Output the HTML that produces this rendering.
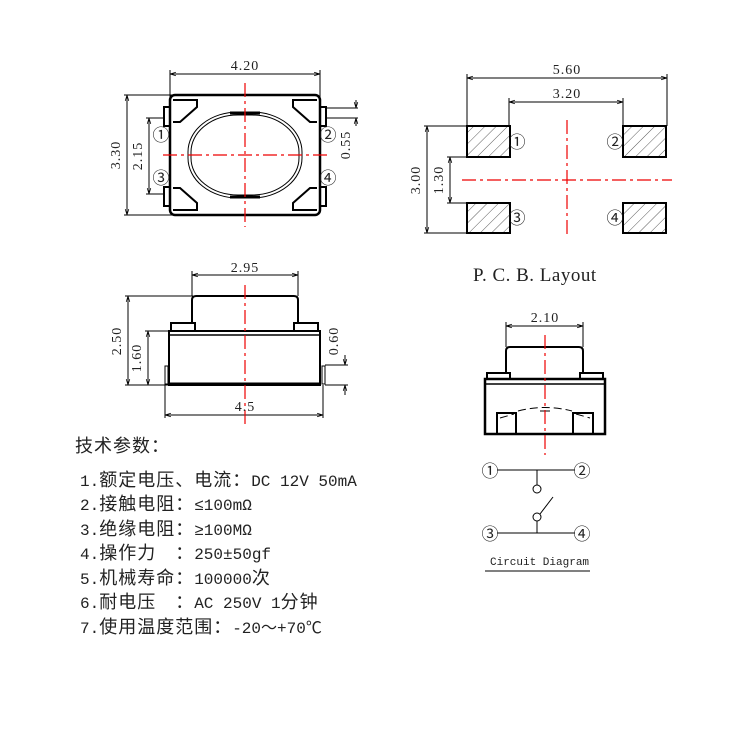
<!DOCTYPE html>
<html><head><meta charset="utf-8"><style>
html,body{margin:0;padding:0;background:#fff;width:750px;height:750px;overflow:hidden}
svg text{fill:#222}
.s{font-family:"Liberation Serif","Noto Sans CJK SC",serif}
.n{font-family:"Liberation Sans","Noto Sans CJK SC",sans-serif}
.m{font-family:"Liberation Mono","Noto Sans CJK SC",monospace}
.c{font-family:"Noto Sans CJK SC",sans-serif;font-size:18px;letter-spacing:1px}
</style></head><body>
<svg width="750" height="750" viewBox="0 0 750 750" xmlns="http://www.w3.org/2000/svg">
<defs>
<marker id="a" viewBox="0 0 10 10" refX="10" refY="5" markerWidth="6" markerHeight="6" orient="auto-start-reverse"><path d="M0,2 L10,5 L0,8" fill="none" stroke="#000" stroke-width="1.2"/></marker>
<pattern id="h" width="8" height="8" patternUnits="userSpaceOnUse" patternTransform="rotate(45)"><line x1="0" y1="0" x2="0" y2="8" stroke="#333" stroke-width="0.8"/></pattern>
</defs>
<g stroke="#000" fill="none" stroke-width="1">
<line x1="170" y1="74" x2="320" y2="74" marker-start="url(#a)" marker-end="url(#a)"/>
<line x1="170" y1="70" x2="170" y2="97"/><line x1="320" y1="70" x2="320" y2="97"/>
<line x1="127" y1="95" x2="127" y2="215" marker-start="url(#a)" marker-end="url(#a)"/>
<line x1="124" y1="95" x2="172" y2="95"/><line x1="124" y1="215" x2="172" y2="215"/>
<line x1="149" y1="118" x2="149" y2="194" marker-start="url(#a)" marker-end="url(#a)"/>
<line x1="146" y1="118" x2="165" y2="118"/><line x1="146" y1="194" x2="165" y2="194"/>
<line x1="325" y1="108" x2="358" y2="108"/><line x1="325" y1="118" x2="358" y2="118"/>
<line x1="356" y1="100" x2="356" y2="108" marker-end="url(#a)"/><line x1="356" y1="126" x2="356" y2="118" marker-end="url(#a)"/>
<rect x="170" y="95" width="150" height="120" rx="5" stroke-width="2.5"/>
<rect x="164" y="107" width="6" height="19" stroke-width="2"/><rect x="164" y="187" width="6" height="19" stroke-width="2"/>
<rect x="320" y="107" width="6" height="19" stroke-width="2"/><rect x="320" y="187" width="6" height="19" stroke-width="2"/>
<path d="M173,100 L197,100 L197,107 L180,122 L173,122" stroke-width="2"/>
<path d="M317,100 L293,100 L293,107 L310,122 L317,122" stroke-width="2"/>
<path d="M173,210 L197,210 L197,203 L180,188 L173,188" stroke-width="2"/>
<path d="M317,210 L293,210 L293,203 L310,188 L317,188" stroke-width="2"/>
<rect x="188" y="112" width="114" height="86" rx="50" ry="40"/>
<rect x="191" y="115" width="108" height="80" rx="47" ry="37"/>
<line x1="230" y1="113" x2="260" y2="113" stroke-width="3"/><line x1="230" y1="197" x2="260" y2="197" stroke-width="3"/>
<line x1="192" y1="275" x2="298" y2="275" marker-start="url(#a)" marker-end="url(#a)"/>
<line x1="192" y1="271" x2="192" y2="296"/><line x1="298" y1="271" x2="298" y2="296"/>
<line x1="128" y1="296" x2="128" y2="385" marker-start="url(#a)" marker-end="url(#a)"/>
<line x1="125" y1="296" x2="193" y2="296"/><line x1="125" y1="385" x2="168" y2="385"/>
<line x1="148" y1="331" x2="148" y2="385" marker-start="url(#a)" marker-end="url(#a)"/>
<line x1="145" y1="331" x2="170" y2="331"/>
<line x1="325" y1="365" x2="348" y2="365"/><line x1="325" y1="385" x2="348" y2="385"/>
<line x1="345" y1="355" x2="345" y2="365" marker-end="url(#a)"/><line x1="345" y1="395" x2="345" y2="385" marker-end="url(#a)"/>
<line x1="165" y1="415" x2="323" y2="415" marker-start="url(#a)" marker-end="url(#a)"/>
<line x1="165" y1="385" x2="165" y2="418"/><line x1="323" y1="385" x2="323" y2="418"/>
<path d="M192,323 L192,300 Q192,296 196,296 L294,296 Q298,296 298,300 L298,323" stroke-width="2"/>
<rect x="171" y="323" width="24" height="8" stroke-width="2"/><rect x="294" y="323" width="24" height="8" stroke-width="2"/>
<rect x="169" y="331" width="151" height="54" stroke-width="2"/>
<line x1="169" y1="335" x2="320" y2="335" stroke-width="1.5"/>
<line x1="169" y1="384" x2="320" y2="384" stroke-width="3"/>
<path d="M165,366 L168,366 L168,384 L165,384Z"/><path d="M325,366 L322,366 L322,384 L325,384Z"/>
<line x1="467" y1="78" x2="667" y2="78" marker-start="url(#a)" marker-end="url(#a)"/>
<line x1="467" y1="74" x2="467" y2="126"/><line x1="667" y1="74" x2="667" y2="126"/>
<line x1="509" y1="102" x2="623" y2="102" marker-start="url(#a)" marker-end="url(#a)"/>
<line x1="509" y1="98" x2="509" y2="126"/><line x1="623" y1="98" x2="623" y2="126"/>
<line x1="427" y1="126" x2="427" y2="233" marker-start="url(#a)" marker-end="url(#a)"/>
<line x1="424" y1="126" x2="467" y2="126"/><line x1="424" y1="233" x2="467" y2="233"/>
<line x1="450" y1="157" x2="450" y2="203" marker-start="url(#a)" marker-end="url(#a)"/>
<line x1="447" y1="157" x2="467" y2="157"/><line x1="447" y1="203" x2="467" y2="203"/>
<rect x="467" y="126" width="43" height="31" fill="url(#h)" stroke-width="2"/>
<rect x="623" y="126" width="43" height="31" fill="url(#h)" stroke-width="2"/>
<rect x="467" y="203" width="43" height="30" fill="url(#h)" stroke-width="2"/>
<rect x="623" y="203" width="43" height="30" fill="url(#h)" stroke-width="2"/>
<line x1="506" y1="326" x2="583" y2="326" marker-start="url(#a)" marker-end="url(#a)"/>
<line x1="506" y1="322" x2="506" y2="347"/><line x1="583" y1="322" x2="583" y2="347"/>
<path d="M506,373 L506,351 Q506,347 510,347 L579,347 Q583,347 583,351 L583,373" stroke-width="2"/>
<rect x="487" y="373" width="23" height="6" stroke-width="2"/><rect x="580" y="373" width="23" height="6" stroke-width="2"/>
<rect x="485" y="379" width="120" height="55" stroke-width="2.5"/>
<line x1="485" y1="384" x2="605" y2="384" stroke-width="1.5"/>
<rect x="497" y="413" width="19" height="21" stroke-width="2"/><rect x="573" y="413" width="20" height="21" stroke-width="2"/>
<path d="M500,418 L514,414 M576,414 L590,418 M518,411 Q545,404 572,411" stroke-dasharray="8,4"/>
<line x1="540" y1="411" x2="550" y2="411"/>
<line x1="497" y1="470" x2="575" y2="470"/><line x1="537" y1="470" x2="537" y2="485"/>
<circle cx="537" cy="489" r="4"/><circle cx="537" cy="517" r="4"/>
<line x1="540" y1="514" x2="553" y2="497"/>
<line x1="537" y1="521" x2="537" y2="533"/><line x1="497" y1="533" x2="575" y2="533"/>
<line x1="485" y1="571" x2="590" y2="571"/>
</g>
<g stroke="#e00" stroke-width="1.2" stroke-dasharray="14,4,3,4" fill="none">
<line x1="245" y1="83" x2="245" y2="227"/><line x1="163" y1="155" x2="328" y2="155"/>
<line x1="245" y1="285" x2="245" y2="425"/>
<line x1="567" y1="120" x2="567" y2="238"/><line x1="462" y1="180" x2="672" y2="180"/>
<line x1="545" y1="335" x2="545" y2="455"/>
</g>
<g class="s" font-size="14" text-anchor="middle" letter-spacing="1">
<text x="245" y="70">4.20</text>
<text x="120" y="155" transform="rotate(-90 120 155)">3.30</text>
<text x="142" y="156" transform="rotate(-90 142 156)">2.15</text>
<text x="350" y="145" transform="rotate(-90 350 145)">0.55</text>
<text x="245" y="272">2.95</text>
<text x="121" y="341" transform="rotate(-90 121 341)">2.50</text>
<text x="141" y="358" transform="rotate(-90 141 358)">1.60</text>
<text x="338" y="341" transform="rotate(-90 338 341)">0.60</text>
<text x="245" y="411">4.5</text>
<text x="567" y="74">5.60</text>
<text x="567" y="98">3.20</text>
<text x="420" y="180" transform="rotate(-90 420 180)">3.00</text>
<text x="443" y="180" transform="rotate(-90 443 180)">1.30</text>
<text x="545" y="322">2.10</text>
</g>
<g class="n" font-size="17" text-anchor="middle">
<text x="161" y="141">①</text><text x="328" y="141">②</text><text x="161" y="184">③</text><text x="328" y="184">④</text>
<text x="517" y="148">①</text><text x="615" y="148">②</text><text x="517" y="224">③</text><text x="615" y="224">④</text>
<text x="490" y="477">①</text><text x="582" y="477">②</text><text x="490" y="540">③</text><text x="582" y="540">④</text>
</g>
<text class="s" x="473" y="281" font-size="19" letter-spacing="0.5">P. C. B. Layout</text>
<text class="m" x="490" y="565" font-size="11">Circuit Diagram</text>
<g class="m" font-size="16">
<text x="75" y="452"><tspan class="c">技术参数：</tspan></text>
<text x="80" y="486">1.<tspan class="c">额定电压、电流：</tspan>DC 12V 50mA</text>
<text x="80" y="510">2.<tspan class="c">接触电阻：</tspan>≤100mΩ</text>
<text x="80" y="535">3.<tspan class="c">绝缘电阻：</tspan>≥100MΩ</text>
<text x="80" y="559">4.<tspan class="c">操作力　：</tspan>250±50gf</text>
<text x="80" y="584">5.<tspan class="c">机械寿命：</tspan>100000<tspan class="c">次</tspan></text>
<text x="80" y="608">6.<tspan class="c">耐电压　：</tspan>AC 250V 1<tspan class="c">分钟</tspan></text>
<text x="80" y="633">7.<tspan class="c">使用温度范围：</tspan>-20～+70℃</text>
</g>
</svg>
</body></html>
